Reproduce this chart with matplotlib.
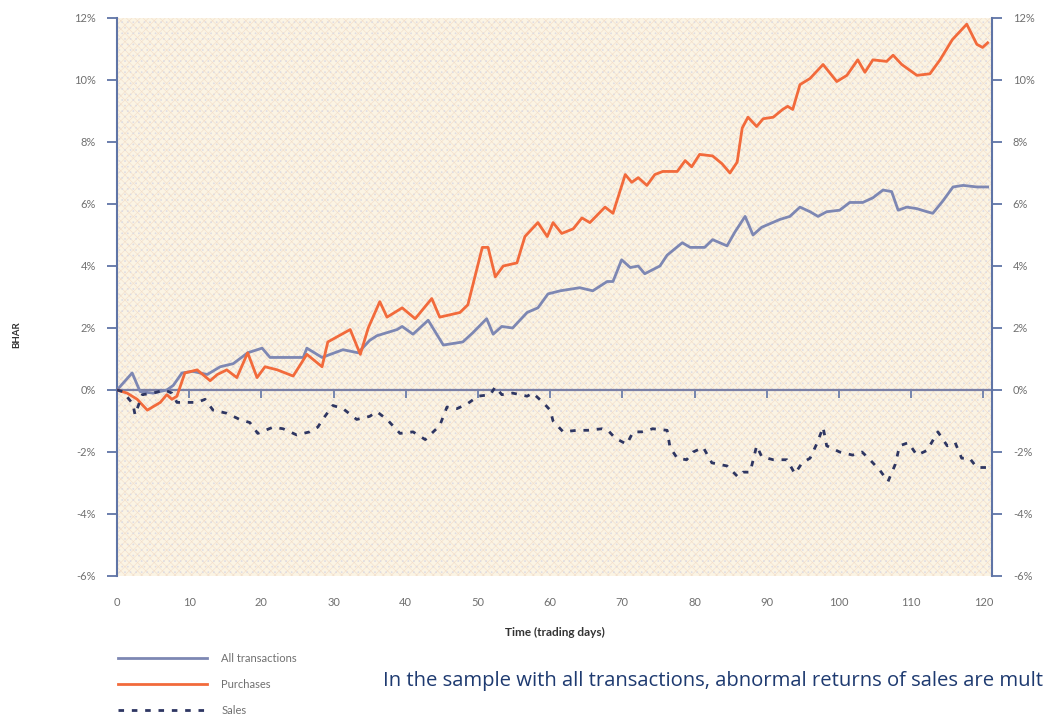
import matplotlib
matplotlib.use("Agg")
import matplotlib.pyplot as plt
from matplotlib.patches import Rectangle
from matplotlib.lines import Line2D

# ---------------- data ----------------
all_days = [0, 2.1, 3.2, 5.0, 6.9, 7.8, 9.0, 10.5, 12.5, 14.3, 16.1, 18.1, 20.1, 21.2, 25.8,
            26.3, 28.4, 31.3, 33.4, 35.0, 36.0, 38.8, 39.5, 41.0, 43.1, 45.2, 47.9, 49.3,
            51.2, 52.1, 53.3, 54.8, 56.8, 58.3, 59.7, 61.4, 64.1, 65.9, 67.9, 68.7, 69.9,
            71.1, 72.2, 73.1, 75.2, 76.2, 78.3, 79.4, 81.4, 82.5, 84.5, 85.6, 87.0, 88.1,
            89.3, 91.8, 93.2, 94.6, 96.0, 97.1, 98.3, 100.1, 101.5, 103.3, 104.7, 106.1,
            107.3, 108.2, 109.4, 110.8, 112.2, 113.0, 114.4, 115.8, 117.2, 119.1, 120.6]
all_vals = [0, 0.55, -0.05, -0.1, 0.0, 0.15, 0.55, 0.6, 0.5, 0.75, 0.85, 1.2, 1.35, 1.05, 1.05,
            1.35, 1.05, 1.3, 1.2, 1.6, 1.75, 1.95, 2.05, 1.8, 2.25, 1.45, 1.55, 1.85,
            2.3, 1.8, 2.05, 2.0, 2.5, 2.65, 3.1, 3.2, 3.3, 3.2, 3.5, 3.5, 4.2,
            3.95, 4.0, 3.75, 4.0, 4.35, 4.75, 4.6, 4.6, 4.85, 4.65, 5.1, 5.6, 5.0,
            5.25, 5.5, 5.6, 5.9, 5.75, 5.6, 5.75, 5.8, 6.05, 6.05, 6.2, 6.45,
            6.4, 5.8, 5.9, 5.85, 5.75, 5.7, 6.1, 6.55, 6.6, 6.55, 6.55]

pur_days = [0, 1.4, 2.8, 4.2, 6.0, 6.9, 7.6, 8.3, 9.4, 11.1, 12.9, 13.9, 15.2, 16.6, 18.1,
            19.4, 20.5, 22.2, 24.4, 26.3, 28.4, 29.2, 32.3, 33.7, 34.8, 36.4, 37.4, 39.5,
            41.3, 43.6, 44.7, 47.5, 48.6, 50.6, 51.4, 52.4, 53.5, 55.4, 56.5, 58.3, 59.6,
            60.4, 61.6, 63.2, 64.4, 65.5, 67.6, 68.7, 70.4, 71.3, 72.2, 73.4, 74.5, 75.6,
            77.6, 78.7, 79.6, 80.7, 82.5, 83.8, 84.9, 85.9, 86.6, 87.4, 88.6, 89.5, 90.9,
            92.2, 92.9, 93.6, 94.6, 96.0, 97.8, 99.7, 101.1, 102.6, 103.6, 104.7, 106.6,
            107.5, 108.7, 110.8, 112.6, 114.0, 115.7, 117.7, 119.1, 119.9, 120.6]
pur_vals = [0, -0.1, -0.3, -0.65, -0.4, -0.15, -0.3, -0.2, 0.55, 0.65, 0.3, 0.5, 0.65, 0.4, 1.2,
            0.4, 0.75, 0.65, 0.45, 1.15, 0.75, 1.55, 1.95, 1.15, 2.0, 2.85, 2.35, 2.65,
            2.3, 2.95, 2.35, 2.5, 2.75, 4.6, 4.6, 3.65, 4.0, 4.1, 4.95, 5.4, 4.95,
            5.4, 5.05, 5.2, 5.55, 5.4, 5.9, 5.7, 6.95, 6.7, 6.85, 6.6, 6.95, 7.05,
            7.05, 7.4, 7.2, 7.6, 7.55, 7.3, 7.0, 7.35, 8.45, 8.8, 8.5, 8.75, 8.8,
            9.05, 9.15, 9.05, 9.85, 10.05, 10.5, 9.95, 10.15, 10.65, 10.25, 10.65, 10.6,
            10.8, 10.5, 10.15, 10.2, 10.65, 11.3, 11.8, 11.15, 11.05, 11.2]

sal_days = [0, 0.8, 2.2, 2.5, 3.5, 5.0, 6.6, 7.6, 8.3, 9.7, 11.1, 12.2, 13.3, 15.2, 17.0,
            18.4, 19.5, 21.6, 23.0, 24.9, 26.7, 27.8, 28.8, 29.9, 31.3, 33.2, 35.0, 36.0,
            37.4, 39.2, 41.0, 42.7, 43.8, 44.7, 45.7, 47.1, 48.5, 50.0, 51.7, 52.4, 53.3,
            54.8, 56.8, 57.6, 59.0, 60.0, 60.4, 61.8, 63.7, 65.2, 67.2, 68.0, 69.0, 70.6,
            71.5, 72.7, 74.2, 76.2, 76.6, 77.6, 78.9, 79.8, 81.2, 82.4, 84.5, 86.0, 86.7,
            87.7, 88.6, 89.3, 90.9, 92.8, 93.9, 94.9, 96.0, 97.0, 97.8, 98.3, 100.1, 101.9,
            103.2, 104.3, 105.7, 106.8, 107.8, 108.4, 109.6, 110.8, 112.2, 113.7, 115.0,
            116.1, 117.0, 118.1, 119.1, 120.5]
sal_vals = [0, -0.05, -0.45, -0.8, -0.15, -0.1, 0.0, -0.1, -0.4, -0.4, -0.4, -0.3, -0.65, -0.75, -0.95,
            -1.05, -1.4, -1.2, -1.25, -1.45, -1.35, -1.2, -0.85, -0.5, -0.6, -0.95, -0.85, -0.7,
            -0.95, -1.4, -1.35, -1.6, -1.35, -1.15, -0.55, -0.6, -0.45, -0.2, -0.15, 0.1, -0.15,
            -0.1, -0.2, -0.1, -0.4, -0.65, -1.0, -1.35, -1.3, -1.3, -1.25, -1.3, -1.55, -1.75,
            -1.35, -1.35, -1.25, -1.3, -1.85, -2.2, -2.25, -2.0, -1.85, -2.35, -2.45, -2.8, -2.65,
            -2.65, -1.8, -2.15, -2.25, -2.25, -2.7, -2.35, -2.2, -1.7, -1.2, -1.8, -2.0, -2.1,
            -2.0, -2.25, -2.6, -2.95, -2.4, -1.8, -1.7, -2.1, -1.95, -1.35, -1.8,
            -1.7, -2.2, -2.2, -2.5, -2.5]

series_labels = ["All transactions", "Purchases", "Sales"]
x_ticks = list(range(0, 121, 10))
y_ticks = list(range(-6, 13, 2))
x_label = "Time (trading days)"
y_label = "BHAR"
caption = "In the sample with all transactions, abnormal returns of sales are mult"

# ---------------- styling ----------------
BLUE = "#7d87b3"
ORANGE = "#f26a3b"
NAVY = "#2e3662"
SPINE = "#5f74a6"
TICKTXT = "#707070"

plt.rcParams["font.family"] = ["Lato", "DejaVu Sans"]
plt.rcParams["hatch.linewidth"] = 0.45

fig = plt.figure(figsize=(10.46, 7.18), dpi=100)
ax = fig.add_axes([117 / 1046, 1 - 576 / 718, (992 - 117) / 1046, (576 - 18) / 718])

ax.set_xlim(0, 121.2)
ax.set_ylim(-6, 12)

# dotted cream background
ax.set_facecolor("#fbf4e4")
ax.add_patch(Rectangle((0, 0), 1, 1, transform=ax.transAxes, facecolor="none",
                       edgecolor="#f3dfcb", hatch="xxxx", linewidth=0, zorder=0))
ax.add_patch(Rectangle((0, 0), 1, 1, transform=ax.transAxes, facecolor="none",
                       edgecolor="#dddbe3", hatch="...", linewidth=0, zorder=0))

# zero line with day ticks
sec = ax.secondary_xaxis(1 / 3)
sec.set_xticks(x_ticks[1:])
sec.xaxis.set_ticks_position("bottom")
sec.tick_params(axis="x", direction="out", length=6, width=1.2, color=SPINE,
                labelbottom=False, labeltop=False)
for s in sec.spines.values():
    s.set_color("#7b80a6")
    s.set_linewidth(1.6)

ax.plot(all_days, all_vals, color=BLUE, lw=2.0, label=series_labels[0], zorder=3)
ax.plot(pur_days, pur_vals, color=ORANGE, lw=2.0, label=series_labels[1], zorder=3)
ax.plot(sal_days, sal_vals, color=NAVY, lw=2.0, dashes=(2.0, 2.8),
        label=series_labels[2], zorder=4)

for side in ["top", "bottom"]:
    ax.spines[side].set_visible(False)
for side in ["left", "right"]:
    ax.spines[side].set_color(SPINE)
    ax.spines[side].set_linewidth(1.5)

ax.set_yticks(y_ticks)
ax.set_yticklabels([f"{v}%" for v in y_ticks])
ax.tick_params(axis="y", left=True, right=True, labelleft=True, labelright=True,
               direction="out", length=7, width=1.3, color=SPINE,
               labelsize=8, labelcolor=TICKTXT, pad=8)

ax.set_xticks(x_ticks)
ax.set_xticklabels([str(v) for v in x_ticks])
ax.tick_params(axis="x", bottom=True, length=0, labelsize=8, labelcolor=TICKTXT, pad=15)

ax.set_xlabel(x_label, fontsize=8.5, fontweight="bold", color="#333333", labelpad=14)
fig.text(17 / 1046, 1 - 335 / 718, y_label, rotation=90, fontsize=7, fontweight="bold",
         color="#333333", ha="center", va="center")

handles = [Line2D([], [], color=BLUE, lw=2.0),
           Line2D([], [], color=ORANGE, lw=2.0),
           Line2D([], [], color=NAVY, lw=2.0, dashes=(2.0, 2.8))]
fig.legend(handles, series_labels, loc="upper left",
           bbox_to_anchor=(108 / 1046, 1 - 643 / 718), frameon=False,
           fontsize=8, handlelength=8.0, handletextpad=1.3, labelspacing=1.35,
           labelcolor=TICKTXT)

fig.text(383 / 1046, 1 - 681 / 718, caption, fontsize=14.6, color="#1e3a70",
         family=["Open Sans", "DejaVu Sans"], ha="left", va="center")

fig.savefig("out.png", dpi=100)
